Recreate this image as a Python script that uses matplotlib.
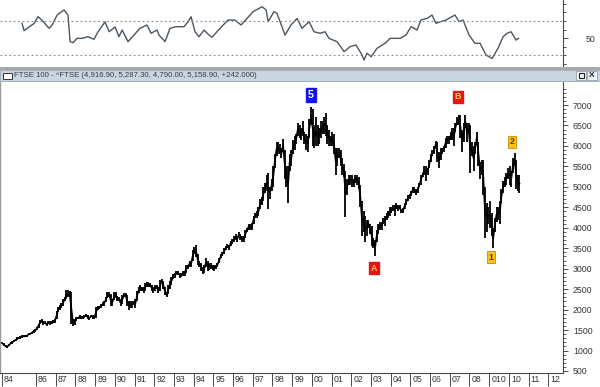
import matplotlib
matplotlib.use("Agg")
import matplotlib.pyplot as plt
import matplotlib.transforms as mtransforms
from matplotlib.patches import Rectangle
import numpy as np

plt.rcParams['font.family'] = ['Liberation Sans', 'DejaVu Sans']

# ---------------- data ----------------
start_year = 1984
start_month = 3  # April 1984 (0-based month index)

bar_low = [
    1150, 1100, 1080, 1070, 1100, 1150, 1170, 1200, 1230,                      # 1984 Apr-Dec
    1260, 1280, 1290, 1310, 1320, 1320, 1330, 1370, 1390, 1400, 1440, 1460,    # 1985
    1500, 1560, 1640, 1680, 1620, 1640, 1600, 1640, 1620, 1640, 1680, 1680,    # 1986
    1760, 1930, 2000, 2040, 2100, 2200, 2250, 2300, 2300, 1650, 1600, 1620,    # 1987
    1730, 1760, 1780, 1780, 1780, 1800, 1830, 1760, 1750, 1810, 1780, 1770,    # 1988
    1800, 2000, 2020, 2040, 2080, 2100, 2180, 2280, 2300, 2080, 2100, 2230,    # 1989
    2280, 2200, 2200, 2080, 2130, 2300, 2300, 2100, 1990, 2030, 2050, 2110,    # 1990
    2050, 2200, 2400, 2450, 2450, 2400, 2450, 2550, 2560, 2550, 2450, 2400,    # 1991
    2450, 2500, 2400, 2450, 2650, 2500, 2350, 2300, 2380, 2500, 2600, 2750,    # 1992
    2780, 2850, 2850, 2780, 2800, 2830, 2830, 2900, 3000, 3050, 3050, 3200,    # 1993
    3350, 3280, 3080, 3050, 2950, 2880, 2900, 3050, 2950, 2980, 3000, 2970,    # 1994
    2950, 3000, 3050, 3130, 3250, 3300, 3350, 3450, 3500, 3450, 3550, 3600,    # 1995
    3650, 3700, 3650, 3750, 3700, 3650, 3650, 3750, 3900, 3950, 3950, 3950,    # 1996
    4100, 4250, 4250, 4300, 4450, 4550, 4650, 4850, 4900, 4450, 4700, 4900,    # 1997
    5000, 5450, 5750, 5800, 5800, 5700, 5850, 5200, 5000, 4600, 5400, 5500,    # 1998
    5800, 5900, 6050, 6250, 6200, 6150, 6250, 6050, 5900, 5850, 6200, 6500,    # 1999
    6000, 5950, 6000, 6000, 6050, 6200, 6300, 6300, 6250, 6050, 6000, 6000,    # 2000
    6000, 5800, 5300, 5500, 5700, 5500, 5300, 5250, 4260, 4800, 5050, 5050,    # 2001
    5000, 5000, 5100, 5050, 4950, 4500, 3800, 3900, 3650, 3800, 4000, 3850,    # 2002
    3550, 3500, 3300, 3650, 3850, 3950, 3950, 4100, 4050, 4200, 4250, 4300,    # 2003
    4350, 4400, 4300, 4450, 4400, 4450, 4350, 4350, 4450, 4550, 4650, 4700,    # 2004
    4780, 4850, 4850, 4800, 4850, 5000, 5050, 5250, 5300, 5150, 5300, 5450,    # 2005
    5600, 5750, 5800, 5950, 5600, 5450, 5650, 5800, 5850, 5950, 6050, 6050,    # 2006
    6150, 6150, 6000, 6350, 6500, 6500, 6200, 5850, 6100, 6450, 6100, 6300,    # 2007
    5350, 5750, 5400, 5800, 6050, 5500, 5200, 5300, 4800, 3750, 3900, 4100,    # 2008
    4000, 3800, 3500, 3900, 4150, 4200, 4100, 4600, 4850, 5000, 5050, 5200,    # 2009
    5050, 5000, 5350, 5500, 4950, 4900, 4850,                                  # 2010 Jan-Jul
]
bar_high = [
    1200, 1180, 1130, 1120, 1170, 1200, 1230, 1260, 1290,                      # 1984 Apr-Dec
    1320, 1340, 1350, 1370, 1380, 1370, 1390, 1420, 1440, 1460, 1500, 1520,    # 1985
    1580, 1660, 1740, 1760, 1720, 1720, 1680, 1720, 1720, 1720, 1740, 1760,    # 1986
    1960, 2060, 2120, 2160, 2250, 2300, 2480, 2470, 2450, 2420, 1760, 1780,    # 1987
    1830, 1830, 1860, 1850, 1840, 1880, 1900, 1880, 1830, 1880, 1860, 1840,    # 1988
    2060, 2080, 2100, 2140, 2180, 2200, 2320, 2420, 2440, 2380, 2250, 2420,    # 1989
    2440, 2340, 2300, 2250, 2350, 2400, 2400, 2350, 2200, 2200, 2200, 2200,    # 1990
    2250, 2450, 2550, 2600, 2550, 2550, 2650, 2680, 2680, 2650, 2600, 2550,    # 1991
    2600, 2600, 2550, 2720, 2740, 2700, 2550, 2420, 2600, 2700, 2800, 2880,    # 1992
    2900, 2950, 2950, 2900, 2900, 2950, 2950, 3100, 3100, 3200, 3200, 3450,    # 1993
    3520, 3580, 3350, 3200, 3150, 3050, 3100, 3250, 3200, 3150, 3150, 3100,    # 1994
    3080, 3100, 3150, 3250, 3350, 3400, 3500, 3550, 3600, 3580, 3680, 3720,    # 1995
    3800, 3850, 3800, 3900, 3850, 3800, 3800, 3950, 4000, 4100, 4100, 4120,    # 1996
    4300, 4350, 4400, 4500, 4700, 4750, 5000, 5100, 5300, 5350, 5000, 5200,    # 1997
    5500, 5800, 6100, 6100, 6050, 5950, 6180, 5900, 5500, 5500, 5800, 5900,    # 1998
    6150, 6250, 6300, 6570, 6500, 6450, 6600, 6350, 6300, 6250, 6650, 6950,    # 1999
    6900, 6500, 6700, 6500, 6450, 6600, 6600, 6700, 6800, 6500, 6400, 6250,    # 2000
    6350, 6300, 5950, 5950, 5950, 5900, 5700, 5550, 5400, 5200, 5300, 5300,    # 2001
    5300, 5200, 5300, 5300, 5250, 5050, 4650, 4400, 4300, 4200, 4200, 4100,    # 2002
    4050, 3750, 3700, 3950, 4100, 4150, 4150, 4250, 4300, 4350, 4400, 4500,    # 2003
    4500, 4550, 4550, 4600, 4550, 4550, 4450, 4480, 4600, 4700, 4800, 4820,    # 2004
    4900, 5000, 5000, 4950, 5000, 5100, 5300, 5350, 5500, 5500, 5450, 5650,    # 2005
    5800, 5900, 6000, 6130, 6100, 5850, 5950, 5950, 6000, 6200, 6250, 6250,    # 2006
    6350, 6450, 6450, 6550, 6700, 6760, 6750, 6400, 6550, 6750, 6550, 6550,    # 2007
    6500, 6100, 6000, 6100, 6350, 6100, 5600, 5650, 5650, 5000, 4600, 4500,    # 2008
    4650, 4350, 4000, 4250, 4500, 4500, 4650, 4950, 5150, 5250, 5350, 5450,    # 2009
    5500, 5400, 5700, 5830, 5650, 5300, 5300,                                  # 2010 Jan-Jul
]

rsi_years = [
    1985.29, 1985.39, 1985.64, 1985.90, 1986.10, 1986.30, 1986.66, 1986.81, 1987.07, 1987.42,
    1987.62, 1987.73, 1987.88, 1988.08, 1988.34, 1988.64, 1988.94, 1989.15, 1989.50, 1989.71,
    1990.01, 1990.21, 1990.37, 1990.67, 1990.97, 1991.28, 1991.63, 1991.84, 1992.14, 1992.24,
    1992.55, 1992.80, 1993.11, 1993.51, 1993.72, 1993.87, 1994.07, 1994.27, 1994.53, 1994.78,
    1994.93, 1995.34, 1995.75, 1996.10, 1996.41, 1996.71, 1997.02, 1997.47, 1997.68, 1997.78,
    1998.08, 1998.23, 1998.64, 1998.94, 1999.25, 1999.50, 1999.86, 2000.11, 2000.42, 2000.67,
    2000.87, 2001.28, 2001.64, 2001.94, 2002.24, 2002.55, 2002.65, 2002.80, 2003.01, 2003.31,
    2003.72, 2003.97, 2004.48, 2004.78, 2005.04, 2005.34, 2005.54, 2005.85, 2006.10, 2006.30,
    2006.81, 2007.27, 2007.47, 2007.68, 2007.98, 2008.28, 2008.54, 2008.84, 2009.15, 2009.45,
    2009.71, 2009.91, 2010.11, 2010.37, 2010.49,
]
rsi_values = [
    67.3, 58.6, 63.0, 67.0, 75.0, 71.0, 61.4, 65.0, 77.0, 83.0,
    77.0, 45.7, 44.5, 49.6, 49.6, 51.5, 48.5, 57.4, 69.0, 57.4,
    63.0, 51.5, 59.4, 45.7, 53.5, 61.4, 65.3, 55.5, 59.4, 53.5,
    45.7, 61.4, 63.3, 63.3, 69.2, 75.0, 57.4, 51.5, 59.4, 53.5,
    50.8, 61.4, 71.2, 71.0, 65.3, 73.0, 81.0, 86.8, 83.0, 69.2,
    81.0, 79.0, 53.5, 65.3, 73.0, 61.4, 69.2, 57.4, 55.5, 57.4,
    49.6, 45.7, 33.9, 39.8, 41.8, 30.0, 24.0, 32.0, 28.0, 37.9,
    43.8, 49.6, 49.6, 53.5, 63.3, 59.4, 71.2, 73.0, 77.0, 67.3,
    71.2, 77.0, 69.2, 71.0, 53.5, 43.8, 43.8, 30.0, 26.0, 37.9,
    51.5, 55.5, 57.4, 47.6, 49.6,
]

year_ticks = [1984.25, 1986, 1987, 1988, 1989, 1990, 1991, 1992, 1993, 1994, 1995, 1996,
              1997, 1998, 1999, 2000, 2001, 2002, 2003, 2004, 2005, 2006, 2007, 2008,
              2009, 2010, 2011, 2012]
year_labels = ['84', '86', '87', '88', '89', '90', '91', '92', '93', '94', '95', '96',
               '97', '98', '99', '00', '01', '02', '03', '04', '05', '06', '07', '08',
               '010', '10', '11', '12']

wave_labels = ['5', 'B', 'A', '1', '2']
wave_years = [1999.96, 2007.42, 2003.16, 2009.10, 2010.16]
wave_values = [7245, 7197, 3017, 3286, 6097]

title_text = "FTSE 100 - ^FTSE (4,916.90, 5,287.30, 4,790.00, 5,158.90, +242.000)"

# ---------------- figure ----------------
W, H = 600, 387
fig = plt.figure(figsize=(W / 100, H / 100), dpi=100)
fig.patch.set_facecolor('white')

def fx(px):
    return px / W

def fy(py):
    return 1 - py / H

xlim = (1984.17, 2012.75)
axis_color = '#4a4a4a'
text_color = '#333333'

# ---- top oscillator pane ----
ax1 = fig.add_axes([0, fy(67), fx(563), 67 / H])
ax1.set_xlim(*xlim)
ax1.set_ylim(15.9, 94.7)
ax1.plot(rsi_years, rsi_values, color='#4b5661', lw=1.0)
for lvl in (70, 30):
    ax1.axhline(lvl, color='#888888', lw=0.8, ls=(0, (1.5, 2.5)))
for s in ('left', 'top', 'bottom'):
    ax1.spines[s].set_visible(False)
ax1.spines['right'].set_color(axis_color)
ax1.spines['right'].set_linewidth(0.8)
ax1.set_xticks([])
ax1.yaxis.tick_right()
ax1.set_yticks([50])
ax1.set_yticklabels(['50'], fontsize=6.3, color=text_color)
ax1.set_yticks([20, 30, 40, 60, 70, 80, 90], minor=True)
ax1.tick_params(axis='y', which='major', direction='out', length=3.6, width=0.7,
                color=axis_color, pad=12.5)
ax1.tick_params(axis='y', which='minor', direction='out', length=2.5, width=0.7,
                color=axis_color)

# ---- main price pane ----
ax2 = fig.add_axes([0, fy(373), fx(563), (373 - 82) / H])
ax2.set_xlim(*xlim)
ax2.set_ylim(451, 7563)

n = len(bar_high)
bar_x = start_year + (start_month + np.arange(n) + 0.5) / 12.0
lo = np.array(bar_low)
hi = np.array(bar_high)
ax2.vlines(bar_x, lo, hi, color='black', lw=1.3)
ax2.plot(bar_x, (lo + hi) / 2.0, color='black', lw=1.2)

ax2.spines['top'].set_visible(False)
ax2.spines['left'].set_color('#9a9a9a')
ax2.spines['left'].set_linewidth(1.0)
ax2.spines['bottom'].set_color(axis_color)
ax2.spines['bottom'].set_linewidth(0.8)
ax2.spines['right'].set_color(axis_color)
ax2.spines['right'].set_linewidth(0.8)

ax2.yaxis.tick_right()
yt = list(range(500, 7001, 500))
ax2.set_yticks(yt)
ax2.set_yticklabels([str(v) for v in yt], fontsize=6.3, color=text_color)
ax2.set_yticks([v for v in range(500, 7600, 100) if v % 500 != 0], minor=True)
ax2.tick_params(axis='y', which='major', direction='out', length=3.6, width=0.7,
                color=axis_color, pad=3.5)
ax2.tick_params(axis='y', which='minor', direction='out', length=2.0, width=0.6,
                color=axis_color)

ax2.set_xticks(year_ticks)
ax2.set_xticklabels([''] * len(year_ticks))
ax2.tick_params(axis='x', direction='out', length=9.0, width=0.7, color=axis_color)
xtr = ax2.get_xaxis_transform() + mtransforms.ScaledTranslation(2 / 100, -2.5 / 100, fig.dpi_scale_trans)
for xp, lab in zip(year_ticks, year_labels):
    ax2.text(xp, 0, lab, transform=xtr, ha='left', va='top', fontsize=6.3, color=text_color)

# wave labels
for lab, yr, val in zip(wave_labels, wave_years, wave_values):
    if lab == '5':
        ax2.text(yr, val, lab, ha='center', va='center', fontsize=7.5, fontweight='bold',
                 color='white', bbox=dict(boxstyle='square,pad=0.2', fc='#1414f0', ec='#1414f0'))
    elif lab in ('A', 'B'):
        ax2.text(yr, val, lab, ha='center', va='center', fontsize=6.3, fontweight='bold',
                 color='#ffd24a', bbox=dict(boxstyle='square,pad=0.2', fc='#e81414', ec='#e81414'))
    else:
        ax2.text(yr, val, lab, ha='center', va='center', fontsize=6.3, fontweight='bold',
                 color='#5a3a00', bbox=dict(boxstyle='square,pad=0.2', fc='#ffc21a', ec='#c98a00', lw=0.6))

# ---- separator and title bar ----
fig.add_artist(Rectangle((0, fy(70)), 1, 3 / H, transform=fig.transFigure,
                         fc='#a9a9a9', ec='none'))
fig.add_artist(Rectangle((0, fy(81)), 1, 11 / H, transform=fig.transFigure,
                         fc='#c9d5df', ec='#9aa6b0', lw=0.6))
fig.add_artist(Rectangle((fx(3), fy(79)), fx(9), 6 / H, transform=fig.transFigure,
                         fc='white', ec='#333333', lw=0.7))
fig.text(fx(14), fy(75.7), title_text, fontsize=5.6, color='#3a3a48', ha='left', va='center')
for bx in (576, 587):
    fig.add_artist(Rectangle((fx(bx), fy(80)), fx(10), 9 / H, transform=fig.transFigure,
                             fc='#eef2f5', ec='#8a949c', lw=0.5))
fig.add_artist(Rectangle((fx(578.5), fy(78)), fx(5), 5 / H, transform=fig.transFigure,
                         fc='none', ec='#222222', lw=0.8))
fig.text(fx(592), fy(75.5), 'X', fontsize=6, fontweight='bold', color='#222222',
         ha='center', va='center')

fig.savefig('out.png', dpi=100)
